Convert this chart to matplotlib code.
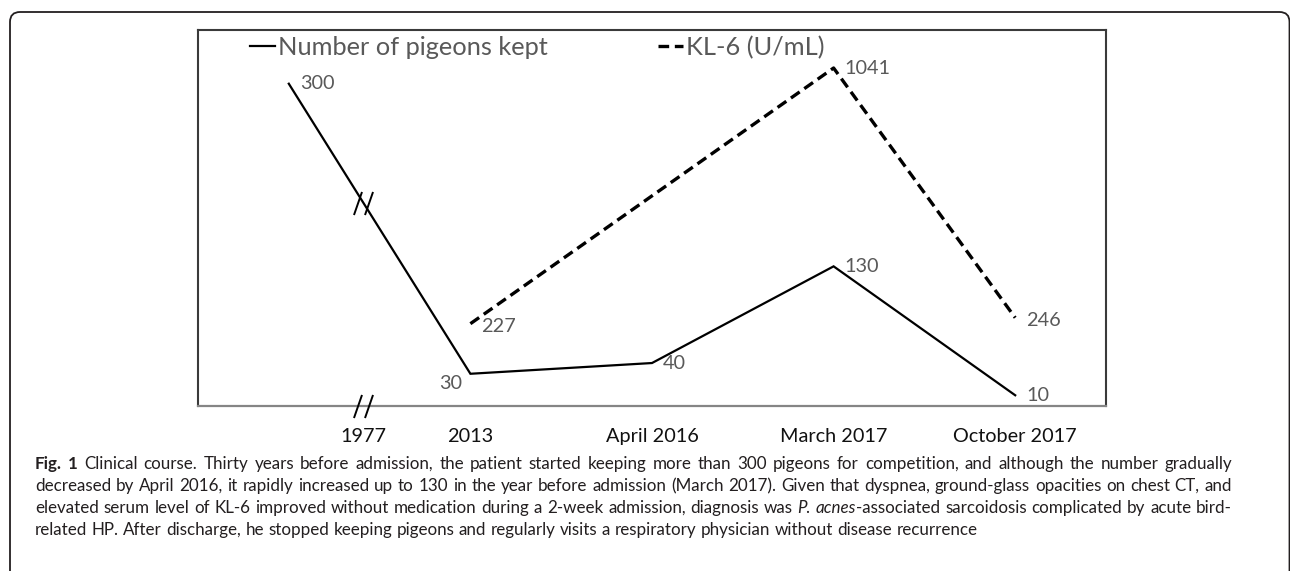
import matplotlib

matplotlib.use("Agg")
import matplotlib.pyplot as plt
import numpy as np
from matplotlib.patches import FancyBboxPatch
from matplotlib.path import Path

# chart data
categories = ["1977", "2013", "April 2016", "March 2017", "October 2017"]
pigeons = [300, 30, 40, 130, 10]
kl6_categories = ["2013", "March 2017", "October 2017"]
kl6 = [227, 1041, 246]
series_names = ["Number of pigeons kept", "KL-6 (U/mL)"]

caption = [
    [("Fig. 1", "bold"), (" Clinical course. Thirty years before admission, the patient started keeping "
                          "more than 300 pigeons for competition, and although the number gradually", "normal")],
    [("decreased by April 2016, it rapidly increased up to 130 in the year before admission "
      "(March 2017). Given that dyspnea, ground-glass opacities on chest CT, and", "normal")],
    [("elevated serum level of KL-6 improved without medication during a 2-week admission, "
      "diagnosis was ", "normal"), ("P. acnes", "italic"),
     ("-associated sarcoidosis complicated by acute bird-", "normal")],
    [("related HP. After discharge, he stopped keeping pigeons and regularly visits a "
      "respiratory physician without disease recurrence", "normal")],
]

W, H = 1290, 571
LABEL_GREY = "#595959"
INK = "#231f20"

plt.rcParams["font.family"] = ["Lato", "DejaVu Sans"]


def split_words(runs):
    """Split styled runs into words, each word a list of (text, style) pieces"""
    words = [[]]
    for text, style in runs:
        for i, part in enumerate(text.split(" ")):
            if i:
                words.append([])
            if part:
                words[-1].append((part, style))
    return [w for w in words if w]


def caption_line(fig, runs, x0, y, size, width=None):
    """Place one caption line word by word, justified to width if given.
    Returns the natural (single spaced) width in pixels."""
    renderer = fig.canvas.get_renderer()
    words = split_words(runs)
    placed = []
    for word in words:
        pieces = []
        for part, style in word:
            t = fig.text(0, 1 - y / H, part, fontsize=size, color=INK, va="center", ha="left",
                         fontweight="bold" if style == "bold" else "normal",
                         fontstyle="italic" if style == "italic" else "normal")
            pieces.append((t, t.get_window_extent(renderer).width))
        placed.append(pieces)

    probe = fig.text(0, 0, "a a", fontsize=size)
    probe2 = fig.text(0, 0, "aa", fontsize=size)
    space = probe.get_window_extent(renderer).width - probe2.get_window_extent(renderer).width
    probe.remove()
    probe2.remove()

    word_widths = [sum(w for _, w in pieces) for pieces in placed]
    natural = sum(word_widths) + space * (len(placed) - 1)
    gap = space
    if width is not None and len(placed) > 1:
        gap = (width - sum(word_widths)) / (len(placed) - 1)

    x = x0
    for pieces, ww in zip(placed, word_widths):
        px = x
        for t, w in pieces:
            t.set_x(px / W)
            px += w
        x += ww + gap
    return natural


fig = plt.figure(figsize=(W / 100, H / 100), dpi=100)
ax = fig.add_axes([198 / W, 1 - 406 / H, 908 / W, 376 / H])
ax2 = ax.twinx()

x_all = np.arange(len(categories))
x_kl6 = [categories.index(c) for c in kl6_categories]

(l1,) = ax.plot(x_all, pigeons, color="black", lw=1.6, solid_joinstyle="miter",
                label=series_names[0])
(l2,) = ax2.plot(x_kl6, kl6, color="black", lw=2.4, dashes=(3.2, 1.7),
                 solid_joinstyle="miter", label=series_names[1])

ax.set_xlim(-0.5, len(categories) - 0.5)
ax.set_ylim(0, 350)
ax2.set_ylim(-35, 1162)

# data labels
for i, v in enumerate(pigeons):
    if i == 1:
        ax.annotate(str(v), (x_all[i], v), xytext=(-6, -7), textcoords="offset points",
                    ha="right", va="center", fontsize=14.3, color=LABEL_GREY)
    else:
        ax.annotate(str(v), (x_all[i], v), xytext=(8, 0), textcoords="offset points",
                    ha="left", va="center", fontsize=14.3, color=LABEL_GREY)
for xi, v in zip(x_kl6, kl6):
    ax2.annotate(str(v), (xi, v), xytext=(8, -2 if v < 500 else 0), textcoords="offset points",
                 ha="left", va="center", fontsize=14.3, color=LABEL_GREY)

# axis break marks between 1977 and 2013, the 1977 label sits under them
break_at = 0.41
brk = Path([(-9.5, -11.5), (-1.5, 11.5), (1.5, -11.5), (9.5, 11.5)],
           [Path.MOVETO, Path.LINETO, Path.MOVETO, Path.LINETO])
y_on_line = np.interp(break_at, x_all[:2], pigeons[:2])
ax.plot([break_at, break_at], [y_on_line, 0], ls="none", marker=brk, ms=16.6,
        mfc="none", mec="black", mew=1.4, clip_on=False, zorder=5)

# axes formatting
tick_pos = [break_at] + list(x_all[1:])
ax.set_xticks(tick_pos, categories)
ax.tick_params(axis="x", length=0, pad=16, labelsize=14.3, labelcolor="#111111")
ax.set_yticks([])
ax2.set_yticks([])
for side in ["top", "left", "right"]:
    ax.spines[side].set_color("#3a3a3a")
    ax.spines[side].set_linewidth(1.5)
ax.spines["bottom"].set_color("#858585")
ax.spines["bottom"].set_linewidth(1.6)
for s in ax2.spines.values():
    s.set_visible(False)

leg = ax2.legend([l1, l2], series_names, loc="upper left", bbox_to_anchor=(0.057, 0.985),
                 ncol=2, frameon=False, fontsize=18.3, handlelength=1.0, handletextpad=0.1,
                 columnspacing=4.35, borderpad=0, borderaxespad=0)
for t in leg.get_texts():
    t.set_color(LABEL_GREY)

# outer rounded frame of the figure panel
fig.add_artist(FancyBboxPatch((0.10, -0.5), 12.795, 6.09,
                              boxstyle="round,pad=0,rounding_size=0.1",
                              transform=fig.dpi_scale_trans, fill=False, ec=INK, lw=1.3))

# caption: size fitted to the widest justified line
n_before = len(fig.texts)
widest = max(caption_line(fig, runs, -3000, -100, 12) for runs in caption[:3])
for t in fig.texts[n_before:]:
    t.remove()
size = 12 * 1188 / widest
line_y = [464, 486, 508, 530]
for k, runs in enumerate(caption):
    caption_line(fig, runs, 35, line_y[k], size, width=1197 if k < 3 else None)

fig.savefig("out.png", dpi=100)
